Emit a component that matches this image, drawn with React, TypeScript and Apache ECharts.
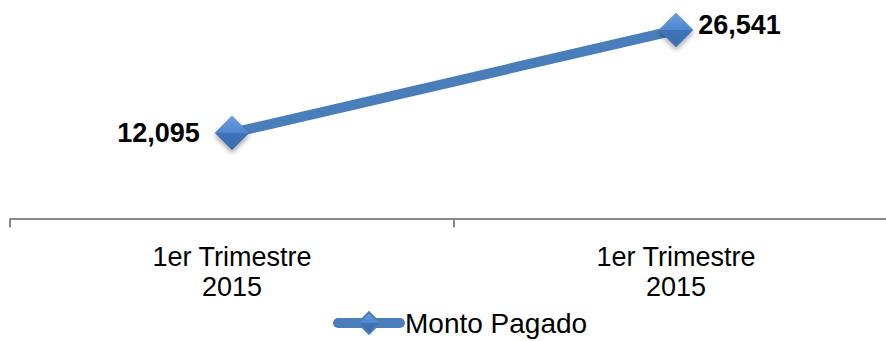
import React, { useEffect, useRef } from "react";
import * as echarts from "echarts";

const categories = ["1er Trimestre\n2015", "1er Trimestre\n2015"];
const seriesName = "Monto Pagado";
const values = [12095, 26541];
const labelSides = ["left", "right"];

export default function App() {
  const ref = useRef<HTMLDivElement>(null);
  useEffect(() => {
    const chart = echarts.init(ref.current!, null, { renderer: "svg" });
    const diamondFill = new echarts.graphic.LinearGradient(0, 0, 0, 1, [
      { offset: 0, color: "#6b9de0" },
      { offset: 0.5, color: "#4f86cf" },
      { offset: 0.5, color: "#3f73b8" },
      { offset: 1, color: "#3a6cae" },
    ]);
    chart.setOption({
      animation: false,
      grid: { left: 10, top: 0, width: 888, height: 223, containLabel: false },
      xAxis: {
        type: "category",
        data: categories,
        boundaryGap: true,
        axisLine: { lineStyle: { color: "#888888", width: 2 } },
        axisTick: { show: true, length: 8, lineStyle: { color: "#888888", width: 2 } },
        axisLabel: {
          color: "#000000",
          fontFamily: "Liberation Sans, Arial, sans-serif",
          fontSize: 27,
          lineHeight: 30,
          margin: 19,
        },
      },
      yAxis: {
        type: "value",
        min: -530,
        max: 30750,
        show: false,
        splitLine: { show: false },
      },
      legend: {
        show: true,
        top: 304,
        left: 328,
        padding: 5,
        itemWidth: 62,
        itemHeight: 27,
        itemGap: 0,
        lineStyle: { width: 10, cap: "round", color: "#4a7ebb" },
        textStyle: {
          fontFamily: "Liberation Sans, Arial, sans-serif",
          fontSize: 28,
          color: "#000000",
        },
        data: [seriesName],
      },
      series: [
        {
          name: seriesName,
          type: "line",
          data: values.map((v, i) => ({
            value: v,
            label: {
              position: labelSides[i],
              distance: i === 0 ? 15 : 5,
              offset: i === 0 ? [0, 0] : [0, -5],
            },
          })),
          symbol: "diamond",
          symbolSize: 34,
          lineStyle: { color: "#4a7ebb", width: 10, cap: "round" },
          itemStyle: {
            color: diamondFill,
            borderColor: "#4a7ebb",
            borderWidth: 0.5,
            shadowColor: "rgba(0,0,0,0.35)",
            shadowBlur: 5,
            shadowOffsetY: 3,
          },
          label: {
            show: true,
            formatter: (p: any) => p.value.toLocaleString("en-US"),
            fontFamily: "Liberation Sans, Arial, sans-serif",
            fontWeight: "bold",
            fontSize: 27,
            color: "#000000",
          },
        },
      ],
    });
    return () => chart.dispose();
  }, []);
  return (
    <div style={{ width: 886, height: 341, position: "absolute", left: 0, top: 0, overflow: "hidden" }}>
      <div ref={ref} style={{ width: 900, height: 341 }} />
    </div>
  );
}
